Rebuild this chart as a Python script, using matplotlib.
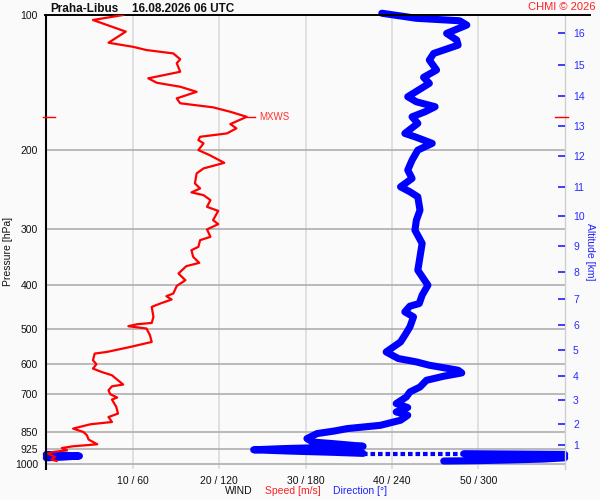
import numpy as np
import matplotlib
matplotlib.use('Agg')
import matplotlib.pyplot as plt

plt.rcParams['font.family'] = ['Liberation Sans', 'DejaVu Sans']

# ---------------- data ----------------
title_station = "Praha-Libus"
title_time = "16.08.2026 06 UTC"
credit = "CHMI © 2026"

pressure_levels = [100, 200, 300, 400, 500, 600, 700, 850, 925, 1000]
speed_ticks = [10, 20, 30, 40, 50]
speed_tick_labels = ["10 / 60", "20 / 120", "30 / 180", "40 / 240", "50 / 300"]

alt_km = [1, 2, 3, 4, 5, 6, 7, 8, 9, 10, 11, 12, 13, 14, 15, 16]
alt_p = [909.6, 813.7, 719.2, 635.9, 556.6, 489.4, 429.2, 374.1, 326.3,
         280.7, 242.2, 206.3, 176.8, 151.3, 129.4, 109.9]

speed_p = [100, 102.6, 108.9, 115.3, 117.7, 119.7, 121.8, 125.5, 128.1, 133.8,
           138.4, 141.6, 144.5, 148.3, 153.4, 157.3, 160.6, 164.3, 168.6, 175.0,
           178.9, 183.6, 186.8, 190.0, 193.2, 200, 205.2, 213.5, 219.7, 225.4,
           237.3, 243.5, 248.5, 252.0, 258.5, 267.6, 273.2, 286.5, 292.4, 300.5,
           312.1, 317.5, 328.6, 334.2, 345.9, 356.7, 362.8, 376.7, 389.9, 401.5,
           417.4, 423.2, 430.5, 439.4, 447.1, 470.7, 485.5, 488.7, 493.7, 499.6,
           517.1, 535.2, 549.2, 563.4, 568.1, 587.9, 600.1, 613.5, 624.3, 635.0,
           651.5, 666.0, 671.9, 685.8, 699.8, 711.8, 719.2, 747.0, 773.0, 786.6,
           807.0, 816.5, 834.8, 849.5, 864.1, 883.2, 904.8, 914.1, 922.2, 933.0,
           941.3, 949.1, 965.7, 978.7, 985.8]
speed_ms = [8.9, 5.4, 9.2, 7.2, 10.0, 11.6, 14.7, 15.5, 15.1, 15.5,
            11.8, 12.8, 15.5, 17.4, 15.1, 15.5, 19.3, 21.3, 23.2, 21.3,
            22.0, 20.9, 17.8, 17.6, 18.2, 17.6, 18.9, 20.6, 18.2, 17.4,
            17.2, 17.8, 16.8, 18.2, 19.0, 18.6, 19.9, 19.3, 19.9, 18.6,
            19.0, 17.8, 17.6, 16.8, 17.0, 17.7, 16.2, 15.3, 16.1, 15.1,
            14.7, 13.9, 14.5, 13.2, 12.2, 12.4, 12.2, 10.5, 9.5, 11.6,
            12.0, 12.2, 9.7, 7.0, 5.6, 5.4, 5.8, 5.4, 6.4, 7.6,
            8.3, 8.9, 7.6, 7.2, 7.4, 8.2, 7.6, 8.1, 8.3, 7.2,
            7.6, 5.1, 3.1, 4.3, 4.7, 4.9, 5.9, 3.1, 1.8, 2.4,
            0.8, 0.2, 1.0, 0.6, 1.2]

# wind direction, upper part (continuous)
dir_p_upper = [99.1, 101.7, 103.0, 105.3, 109.9, 113.7, 116.7, 121.8, 126.0, 132.6,
               137.7, 142.0, 152.1, 156.1, 160.1, 164.3, 168.6, 174.4, 183.6, 186.8,
               193.2, 200, 210.6, 221.6, 231.3, 241.5, 247.7, 254.2, 272.2, 286.5,
               301.6, 322.8, 345.9, 370.4, 400, 421.0, 439.4, 445.5, 458.7, 470.7,
               495.5, 517.1, 535.2, 563.4, 582.8, 592.9, 603.1, 618.8, 627.4, 638.1,
               651.5, 674.4, 691.8, 709.8, 734.3, 749.4, 766.5, 779.7, 799.8, 820.9,
               834.8, 845.3, 856.5, 878.7, 894.3, 901.7, 914.1, 918.8, 925, 930.7,
               937, 943, 948]
dir_deg_upper = [233, 257, 287, 292, 278, 285, 286, 269, 266, 271,
                 262, 266, 251, 257, 270, 263, 254, 258, 249, 256,
                 268, 258, 254, 251, 254, 246, 252.5, 258, 259.5, 257,
                 256, 261, 259.5, 258, 265, 261, 259, 252.5, 249, 255,
                 252.5, 249, 246, 236, 244.5, 257, 266, 286, 288.5, 276,
                 264, 259.5, 252.5, 250, 243, 251, 243, 251, 246, 232,
                 209, 200, 188, 181, 185, 199, 220, 200, 165, 144,
                 170, 200, 220]
# near-surface part (wraps across north)
dir_p_lower = [949.5, 951, 953, np.nan, 953, 957, 961, 966, 970, np.nan, 970, 976, 981, 984, 986]
dir_deg_lower = [290, 320, 360, np.nan, 0, 12, 23, 12, 0, np.nan, 360, 345, 320, 300, 276]

# ---------------- figure ----------------
BG = '#fafafa'
BLUE = '#0000ff'
RED = '#ff0000'
fig = plt.figure(figsize=(6, 5), dpi=100, facecolor=BG)
L, R, T, B = 46.3, 564.7, 15.0, 469.3
ax = fig.add_axes([L / 600, 1 - B / 500, (R - L) / 600, (B - T) / 500])
ax.set_yscale('log')
ax.set_ylim(1028.7, 100)
ax.set_xlim(0, 60)

# direction axis (drawn underneath the speed axis)
axd = ax.twiny()
axd.set_xlim(0, 360)
axd.set_facecolor(BG)
axd.set_xticks([])
for s in axd.spines.values():
    s.set_visible(False)
axd.set_zorder(1)
ax.set_zorder(2)
ax.patch.set_visible(False)

for s in ['top', 'bottom']:
    ax.spines[s].set_visible(False)
ax.spines['left'].set_color('black')
ax.spines['left'].set_linewidth(1.5)
ax.spines['right'].set_color('#cfcfcf')
ax.spines['right'].set_linewidth(1.0)

# grid (under the blue profile)
for p in pressure_levels[1:]:
    axd.axhline(p, color='#a9a9a9', lw=1.1, zorder=1)
for x in speed_ticks:
    axd.axvline(x * 6, color='#d9d9d9', lw=1.1, zorder=0.9)
# top line
ax.plot([(45 - L) / (R - L), (590 - L) / (R - L)], [1, 1], color='black', lw=1.4,
        transform=ax.transAxes, clip_on=False, zorder=3)

ax.yaxis.set_minor_locator(matplotlib.ticker.NullLocator())
ax.set_yticks(pressure_levels)
ax.set_yticklabels([str(p) for p in pressure_levels])
ax.tick_params(axis='y', length=0, pad=6, labelsize=7.5, labelcolor='#111111')
ax.set_xticks(speed_ticks)
ax.set_xticklabels(speed_tick_labels)
ax.tick_params(axis='x', length=0, pad=4.5, labelsize=7.5, labelcolor='#111111')

# direction (blue)
axd.plot(dir_deg_upper, dir_p_upper, color=BLUE, lw=5.1, solid_capstyle='round',
         solid_joinstyle='round', clip_on=False, zorder=4)
axd.plot([dir_deg_upper[-1], dir_deg_lower[0]], [dir_p_upper[-1] + 1, dir_p_lower[0] - 0.5],
         color=BLUE, lw=3.0, linestyle=(0, (1.1, 0.7)), clip_on=False, zorder=4)
axd.plot(dir_deg_lower, dir_p_lower, color=BLUE, lw=5.1, solid_capstyle='round',
         solid_joinstyle='round', clip_on=False, zorder=4)

# speed (red)
ax.plot(speed_ms, speed_p, color=RED, lw=1.6, zorder=5)

# MXWS marker
imax = int(np.argmax(speed_ms))
mx_s, mx_p = speed_ms[imax], speed_p[imax]
ax.plot([mx_s, mx_s + 1.0], [mx_p, mx_p], color=RED, lw=1.0, zorder=5)
ax.text(mx_s + 1.4, mx_p, 'MXWS', color='#ff3030', fontsize=7, va='center', ha='left')
ax.plot([-0.35, 1.0], [mx_p, mx_p], color=RED, lw=1.0, clip_on=False, zorder=5)
ax.plot([58.9, 60.35], [mx_p, mx_p], color=RED, lw=1.0, clip_on=False, zorder=5)

# altitude axis (right)
ax2 = ax.twinx()
ax2.set_zorder(3)
ax2.patch.set_visible(False)
ax2.set_yscale('log')
ax2.set_ylim(1028.7, 100)
for s in ax2.spines.values():
    s.set_visible(False)
ax2.yaxis.set_minor_locator(matplotlib.ticker.NullLocator())
ax2.set_yticks(alt_p)
ax2.set_yticklabels([str(a) for a in alt_km])
ax2.tick_params(axis='y', direction='in', length=5, width=1.2, color='#2020ff',
                labelcolor='#2a2aff', labelsize=7.5, pad=6)

# texts
fig.text(50 / 600, 1 - 11.7 / 500, title_station, fontsize=8.5, fontweight='bold',
         ha='left', va='baseline', color='#111111')
fig.text(131.7 / 600, 1 - 11.7 / 500, title_time, fontsize=8.5, fontweight='bold',
         ha='left', va='baseline', color='#111111')
fig.text(596 / 600, 1 - 10 / 500, credit, fontsize=8, color='#ff2020',
         ha='right', va='baseline')
fig.text(8 / 600, 1 - 251 / 500, 'Pressure [hPa]', rotation=90, fontsize=7.5,
         ha='center', va='center', color='#111111')
fig.text(590 / 600, 1 - 252 / 500, 'Altitude [km]', rotation=270, fontsize=7.5,
         ha='center', va='center', color='#2020ff')
fig.text(225 / 600, 1 - 491 / 500, 'WIND', fontsize=7.5, ha='left', va='center', color='#111111')
fig.text(265 / 600, 1 - 491 / 500, 'Speed [m/s]', fontsize=7.5, ha='left', va='center', color='#ff2020')
fig.text(332.7 / 600, 1 - 491 / 500, 'Direction [°]', fontsize=7.5, ha='left', va='center', color='#2020ff')

fig.savefig('out.png', dpi=100, facecolor=BG)
